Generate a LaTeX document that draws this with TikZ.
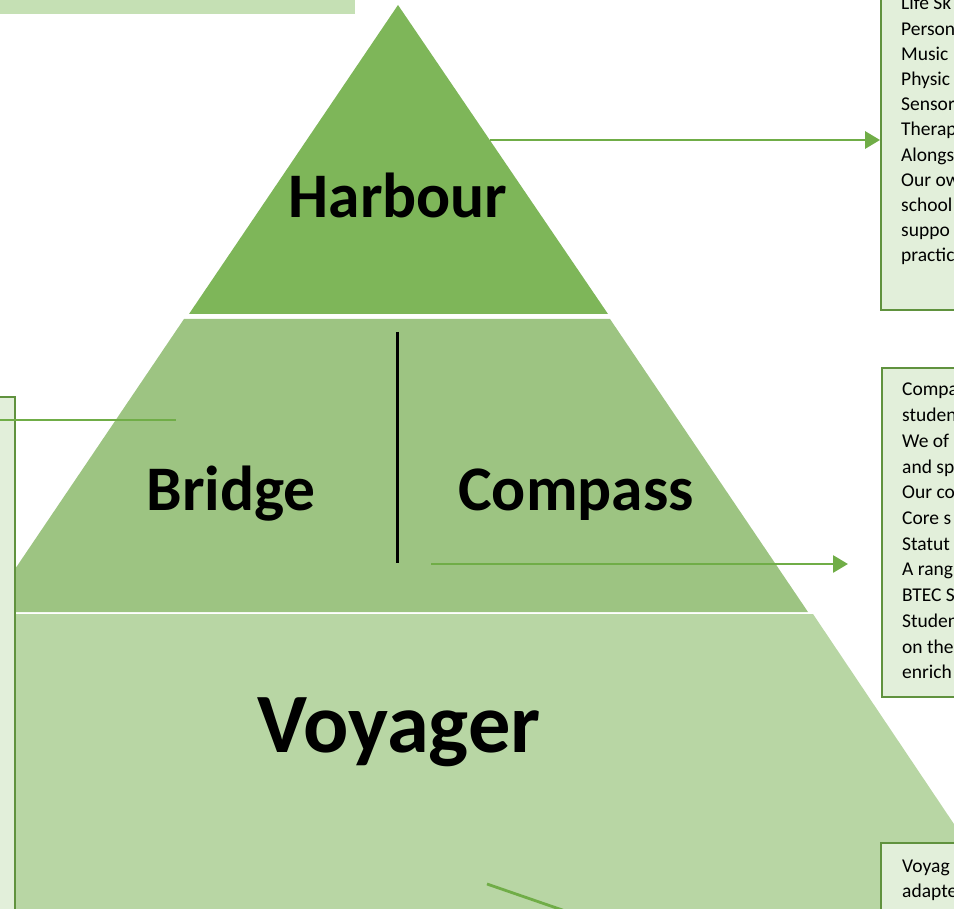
\documentclass[tikz,border=0pt]{standalone}
\usepackage{fontspec}
\setmainfont{Carlito}
\usetikzlibrary{arrows.meta}
\definecolor{harb}{RGB}{126,182,89}
\definecolor{brid}{RGB}{157,196,130}
\definecolor{voya}{RGB}{184,214,164}
\definecolor{boxfill}{RGB}{226,239,218}
\definecolor{boxline}{RGB}{96,146,62}
\definecolor{arrowc}{RGB}{112,173,71}
\definecolor{topbar}{RGB}{197,224,180}
\tikzset{
  infobox/.style={draw=boxline, line width=1.8pt, fill=boxfill, inner sep=0pt},
  linetext/.style={anchor=base west, inner sep=0pt, font=\fontsize{19.5}{25}\selectfont},
  biglabel/.style={anchor=base, inner sep=0pt, font=\fontsize{63.5}{75}\selectfont\bfseries},
  conn/.style={draw=arrowc, line width=2.8pt},
  connarrow/.style={conn, -{Triangle[length=15pt,width=17pt]}}
}
\begin{document}
\begin{tikzpicture}[x=1pt,y=-1pt]
\useasboundingbox (0,0) rectangle (954,909);
\clip (0,0) rectangle (954,909);
% top-left bar
\fill[topbar] (0,-5) rectangle (355,14);
% pyramid layers
\fill[harb] (398,5) -- (608,314) -- (189,314) -- cycle;
\fill[brid] (184,319) -- (610,319) -- (808,612) -- (-14,612) -- cycle;
\fill[voya] (-17,614) -- (813,614) -- (1011,909) -- (-200,909) -- cycle;
% divider
\draw[line width=3pt] (397,332) -- (397,563);
% labels
\node[biglabel] (harbour) at (398,218) {Harbour};
\node[biglabel] (bridge) at (231,510) {Bridge};
\node[biglabel] (compass) at (576,510) {Compass};
\node[biglabel, font=\fontsize{84.5}{95}\selectfont\bfseries] (voyager) at (399,752) {Voyager};
% boxes
\node[infobox, minimum width=140pt, minimum height=330pt] (box1) at (951,145) {};
\node[infobox, minimum width=140pt, minimum height=329pt] (box2) at (952,532.5) {};
\node[infobox, minimum width=140pt, minimum height=120pt] (box3) at (951,903) {};
\node[infobox, minimum width=45pt, minimum height=540pt] (box4) at (-7.5,667) {};
% box texts
\foreach \t [count=\i from 0] in {Life Sk,Person,Music,Physic,Sensor,Therap,Alongs,Our ow,school,suppo,practic}
  \node[linetext] (b1l\i) at (901,{10+25.2*\i}) {\t};
\foreach \t [count=\i from 0] in {Compa,studen,We of,and sp,Our co,Core s,Statut,A rang,BTEC S,Studen,on the,enrich}
  \node[linetext] (b2l\i) at (902,{396+25.7*\i}) {\t};
\foreach \t [count=\i from 0] in {Voyag,adapte}
  \node[linetext] (b3l\i) at (902,{872+25.2*\i}) {\t};
% connectors
\coordinate (a1s) at (490,140);
\draw[connarrow] (a1s) -- (a1s -| box1.west);
\coordinate (a2s) at (431,564);
\coordinate (a2e) at (848,564);
\draw[connarrow] (a2s) -- (a2e);
\coordinate (l1s) at (-5,420);
\coordinate (l1e) at (176,420);
\draw[conn] (l1s) -- (l1e);
\coordinate (l2s) at (487,884);
\coordinate (l2e) at (600,923);
\draw[conn] (l2s) -- (l2e);
\end{tikzpicture}
\end{document}
